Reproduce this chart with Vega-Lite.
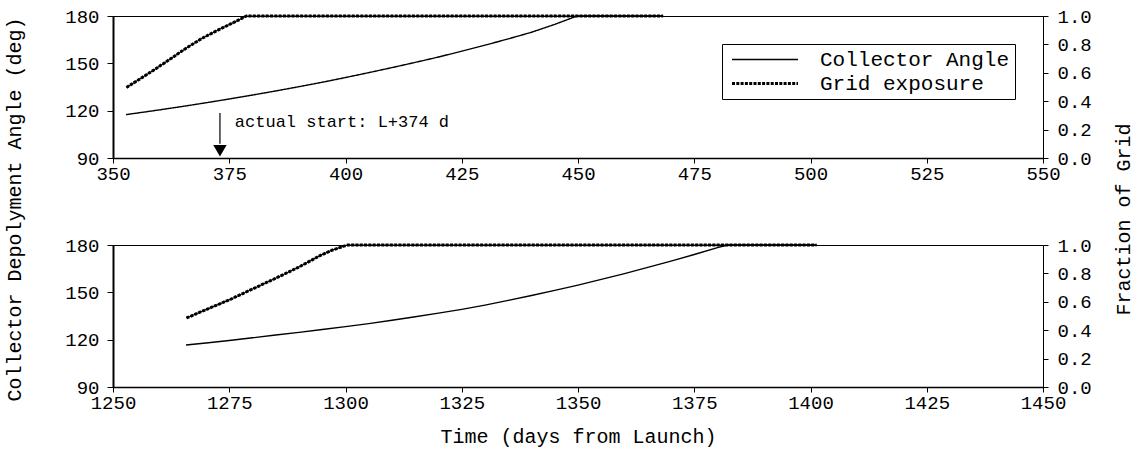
{
  "$schema": "https://vega.github.io/schema/vega-lite/v6.json",
  "padding": {"left": 4, "top": 6, "right": 2, "bottom": 4},
  "background": "white",
  "spacing": 87,
  "bounds": "flush",
  "config": {
    "font": "Liberation Mono",
    "view": {"stroke": "black", "strokeWidth": 1},
    "axis": {
      "labelFont": "Liberation Mono", "titleFont": "Liberation Mono",
      "labelFontSize": 19, "titleFontSize": 20, "titleFontWeight": "normal",
      "labelColor": "black", "titleColor": "black", "domainColor": "black", "tickColor": "black",
      "grid": false, "labelFlush": false, "labelOverlap": false, "labelSeparation": 0
    },
    "legend": {"labelFont": "Liberation Mono", "labelFontSize": 21, "labelColor": "black"}
  },
  "datasets": {
    "curves": [
      {"p": "top", "s": "Collector Angle", "d": 352.8, "v": 117.5},
      {"p": "top", "s": "Collector Angle", "d": 355, "v": 118.4},
      {"p": "top", "s": "Collector Angle", "d": 360, "v": 120.5},
      {"p": "top", "s": "Collector Angle", "d": 365, "v": 122.7},
      {"p": "top", "s": "Collector Angle", "d": 370, "v": 125.0},
      {"p": "top", "s": "Collector Angle", "d": 375, "v": 127.4},
      {"p": "top", "s": "Collector Angle", "d": 380, "v": 129.9},
      {"p": "top", "s": "Collector Angle", "d": 385, "v": 132.5},
      {"p": "top", "s": "Collector Angle", "d": 390, "v": 135.2},
      {"p": "top", "s": "Collector Angle", "d": 395, "v": 138.0},
      {"p": "top", "s": "Collector Angle", "d": 400, "v": 141.0},
      {"p": "top", "s": "Collector Angle", "d": 405, "v": 144.1},
      {"p": "top", "s": "Collector Angle", "d": 410, "v": 147.3},
      {"p": "top", "s": "Collector Angle", "d": 415, "v": 150.6},
      {"p": "top", "s": "Collector Angle", "d": 420, "v": 154.0},
      {"p": "top", "s": "Collector Angle", "d": 425, "v": 157.7},
      {"p": "top", "s": "Collector Angle", "d": 430, "v": 161.5},
      {"p": "top", "s": "Collector Angle", "d": 435, "v": 165.5},
      {"p": "top", "s": "Collector Angle", "d": 440, "v": 169.7},
      {"p": "top", "s": "Collector Angle", "d": 445, "v": 174.7},
      {"p": "top", "s": "Collector Angle", "d": 449.8, "v": 180},
      {"p": "top", "s": "Collector Angle", "d": 468.3, "v": 180},
      {"p": "top", "s": "Grid exposure", "d": 352.9, "v": 0.497},
      {"p": "top", "s": "Grid exposure", "d": 355, "v": 0.54},
      {"p": "top", "s": "Grid exposure", "d": 358.8, "v": 0.62},
      {"p": "top", "s": "Grid exposure", "d": 362, "v": 0.69},
      {"p": "top", "s": "Grid exposure", "d": 365.8, "v": 0.775},
      {"p": "top", "s": "Grid exposure", "d": 369, "v": 0.84},
      {"p": "top", "s": "Grid exposure", "d": 373, "v": 0.908},
      {"p": "top", "s": "Grid exposure", "d": 376, "v": 0.955},
      {"p": "top", "s": "Grid exposure", "d": 378.7, "v": 1.0},
      {"p": "top", "s": "Grid exposure", "d": 468.3, "v": 1.0},
      {"p": "bottom", "s": "Collector Angle", "d": 1265.7, "v": 116.6},
      {"p": "bottom", "s": "Collector Angle", "d": 1270, "v": 117.9},
      {"p": "bottom", "s": "Collector Angle", "d": 1275, "v": 119.5},
      {"p": "bottom", "s": "Collector Angle", "d": 1280, "v": 121.2},
      {"p": "bottom", "s": "Collector Angle", "d": 1285, "v": 123.0},
      {"p": "bottom", "s": "Collector Angle", "d": 1290, "v": 124.6},
      {"p": "bottom", "s": "Collector Angle", "d": 1295, "v": 126.4},
      {"p": "bottom", "s": "Collector Angle", "d": 1300, "v": 128.3},
      {"p": "bottom", "s": "Collector Angle", "d": 1305, "v": 130.2},
      {"p": "bottom", "s": "Collector Angle", "d": 1310, "v": 132.3},
      {"p": "bottom", "s": "Collector Angle", "d": 1315, "v": 134.5},
      {"p": "bottom", "s": "Collector Angle", "d": 1320, "v": 136.8},
      {"p": "bottom", "s": "Collector Angle", "d": 1325, "v": 139.2},
      {"p": "bottom", "s": "Collector Angle", "d": 1330, "v": 141.9},
      {"p": "bottom", "s": "Collector Angle", "d": 1335, "v": 144.9},
      {"p": "bottom", "s": "Collector Angle", "d": 1340, "v": 148.0},
      {"p": "bottom", "s": "Collector Angle", "d": 1345, "v": 151.2},
      {"p": "bottom", "s": "Collector Angle", "d": 1350, "v": 154.6},
      {"p": "bottom", "s": "Collector Angle", "d": 1355, "v": 158.2},
      {"p": "bottom", "s": "Collector Angle", "d": 1360, "v": 161.9},
      {"p": "bottom", "s": "Collector Angle", "d": 1365, "v": 165.8},
      {"p": "bottom", "s": "Collector Angle", "d": 1370, "v": 169.8},
      {"p": "bottom", "s": "Collector Angle", "d": 1375, "v": 174.0},
      {"p": "bottom", "s": "Collector Angle", "d": 1380, "v": 178.3},
      {"p": "bottom", "s": "Collector Angle", "d": 1382.2, "v": 180},
      {"p": "bottom", "s": "Collector Angle", "d": 1401.3, "v": 180},
      {"p": "bottom", "s": "Grid exposure", "d": 1265.8, "v": 0.486},
      {"p": "bottom", "s": "Grid exposure", "d": 1270, "v": 0.545},
      {"p": "bottom", "s": "Grid exposure", "d": 1275.1, "v": 0.615},
      {"p": "bottom", "s": "Grid exposure", "d": 1280, "v": 0.69},
      {"p": "bottom", "s": "Grid exposure", "d": 1285.9, "v": 0.78},
      {"p": "bottom", "s": "Grid exposure", "d": 1290, "v": 0.845},
      {"p": "bottom", "s": "Grid exposure", "d": 1294.5, "v": 0.925},
      {"p": "bottom", "s": "Grid exposure", "d": 1297, "v": 0.962},
      {"p": "bottom", "s": "Grid exposure", "d": 1299.5, "v": 0.99},
      {"p": "bottom", "s": "Grid exposure", "d": 1300.5, "v": 1.0},
      {"p": "bottom", "s": "Grid exposure", "d": 1401.3, "v": 1.0}
    ],
    "arrow": [{"d": 373, "y1": 118.5, "y2": 99}],
    "head": [{"d": 373, "y": 94.6}],
    "note": [{"d": 376.2, "y": 112.8, "label": "actual start: L+374 d"}]
  },
  "resolve": {
    "scale": {"strokeDash": "independent", "strokeWidth": "independent"},
    "legend": {"strokeDash": "independent", "strokeWidth": "independent"}
  },
  "vconcat": [
    {
      "width": 930,
      "height": 142,
      "layer": [
        {
          "layer": [
            {
              "data": {"name": "curves"},
              "transform": [{"filter": "datum.p == 'top' && datum.s == 'Collector Angle'"}],
              "mark": {"type": "line", "color": "black"},
              "encoding": {
                "x": {"field": "d", "type": "quantitative", "scale": {"domain": [350, 550], "nice": false},
                  "axis": {"values": [350, 375, 400, 425, 450, 475, 500, 525, 550], "format": "d", "title": null, "tickSize": 5, "labelPadding": 1, "domainWidth": 1.5, "labelOverlap": false}},
                "y": {"field": "v", "type": "quantitative", "scale": {"domain": [90, 180], "nice": false, "zero": false},
                  "axis": {"orient": "left", "values": [90, 120, 150, 180], "title": null, "tickSize": 6, "labelPadding": 8, "domainWidth": 2, "labelOverlap": false}},
                "strokeDash": {"field": "s", "type": "nominal",
                  "scale": {"domain": ["Collector Angle", "Grid exposure"], "range": [[1, 0], [3, 1.3]]},
                  "legend": {"title": null, "orient": "top-right", "offset": 28, "symbolType": "M-1,0L11,0", "symbolSize": 121,
                    "strokeColor": "black", "fillColor": "white", "padding": 5, "labelOffset": 72, "rowPadding": 2, "labelLimit": 400,
                    "symbolStrokeColor": "black", "symbolFillColor": "transparent"}},
                "strokeWidth": {"field": "s", "type": "nominal",
                  "scale": {"domain": ["Collector Angle", "Grid exposure"], "range": [1.4, 3]},
                  "legend": {"title": null, "orient": "top-right", "offset": 28, "symbolType": "M-1,0L11,0", "symbolSize": 121,
                    "strokeColor": "black", "fillColor": "white", "padding": 5, "labelOffset": 72, "rowPadding": 2, "labelLimit": 400,
                    "symbolStrokeColor": "black", "symbolFillColor": "transparent"}}
              }
            },
            {
              "data": {"name": "arrow"},
              "mark": {"type": "rule", "color": "black", "strokeWidth": 1.2},
              "encoding": {
                "x": {"field": "d", "type": "quantitative"},
                "y": {"field": "y1", "type": "quantitative"},
                "y2": {"field": "y2"}
              }
            },
            {
              "data": {"name": "head"},
              "mark": {"type": "point", "shape": "triangle-down", "filled": true, "color": "black", "size": 180, "opacity": 1},
              "encoding": {
                "x": {"field": "d", "type": "quantitative"},
                "y": {"field": "y", "type": "quantitative"}
              }
            },
            {
              "data": {"name": "note"},
              "mark": {"type": "text", "align": "left", "baseline": "middle", "font": "Liberation Mono", "fontSize": 17, "color": "black"},
              "encoding": {
                "x": {"field": "d", "type": "quantitative"},
                "y": {"field": "y", "type": "quantitative"},
                "text": {"field": "label"}
              }
            }
          ]
        },
        {
          "layer": [
            {
              "data": {"name": "curves"},
              "transform": [{"filter": "datum.p == 'top' && datum.s == 'Grid exposure'"}],
              "mark": {"type": "line", "color": "black", "strokeWidth": 1.2},
              "encoding": {
                "x": {"field": "d", "type": "quantitative"},
                "y": {"field": "v", "type": "quantitative", "scale": {"domain": [0, 1], "nice": false},
                  "axis": {"orient": "right", "values": [0, 0.2, 0.4, 0.6, 0.8, 1.0], "format": ".1f", "title": null, "tickSize": 5, "labelPadding": 9, "labelOverlap": false, "labelSeparation": 0}}
              }
            },
            {
              "data": {"name": "curves"},
              "transform": [{"filter": "datum.p == 'top' && datum.s == 'Grid exposure'"}],
              "mark": {"type": "line", "color": "black"},
              "encoding": {
                "x": {"field": "d", "type": "quantitative"},
                "y": {"field": "v", "type": "quantitative", "axis": {"orient": "right", "values": [0, 0.2, 0.4, 0.6, 0.8, 1.0], "format": ".1f", "title": null, "tickSize": 5, "labelPadding": 9, "labelOverlap": false, "labelSeparation": 0}},
                "strokeDash": {"field": "s", "type": "nominal"},
                "strokeWidth": {"field": "s", "type": "nominal"}
              }
            }
          ]
        }
      ],
      "resolve": {"scale": {"y": "independent"}}
    },
    {
      "width": 930,
      "height": 142,
      "layer": [
        {
          "data": {"name": "curves"},
          "transform": [{"filter": "datum.p == 'bottom' && datum.s == 'Collector Angle'"}],
          "mark": {"type": "line", "color": "black", "strokeWidth": 1.4},
          "encoding": {
            "x": {"field": "d", "type": "quantitative", "scale": {"domain": [1250, 1450], "nice": false},
              "axis": {"values": [1250, 1275, 1300, 1325, 1350, 1375, 1400, 1425, 1450], "format": "d", "title": "Time (days from Launch)", "tickSize": 5, "labelPadding": 1, "domainWidth": 1.5, "titlePadding": 14, "labelOverlap": false}},
            "y": {"field": "v", "type": "quantitative", "scale": {"domain": [90, 180], "nice": false, "zero": false},
              "axis": {"orient": "left", "values": [90, 120, 150, 180], "title": "Collector Depolyment Angle (deg)", "titleY": -36, "titlePadding": 40, "tickSize": 6, "labelPadding": 8, "domainWidth": 2, "labelOverlap": false}}
          }
        },
        {
          "layer": [
            {
              "data": {"name": "curves"},
              "transform": [{"filter": "datum.p == 'bottom' && datum.s == 'Grid exposure'"}],
              "mark": {"type": "line", "color": "black", "strokeWidth": 1.2},
              "encoding": {
                "x": {"field": "d", "type": "quantitative"},
                "y": {"field": "v", "type": "quantitative", "scale": {"domain": [0, 1], "nice": false},
                  "axis": {"orient": "right", "values": [0, 0.2, 0.4, 0.6, 0.8, 1.0], "format": ".1f", "title": "Fraction of Grid", "titleAngle": 270, "titleBaseline": "bottom", "titleY": -26, "titlePadding": 42, "tickSize": 5, "labelPadding": 9, "labelOverlap": false, "labelSeparation": 0}}
              }
            },
            {
              "data": {"name": "curves"},
              "transform": [{"filter": "datum.p == 'bottom' && datum.s == 'Grid exposure'"}],
              "mark": {"type": "line", "color": "black", "strokeWidth": 3, "strokeDash": [3, 1.3]},
              "encoding": {
                "x": {"field": "d", "type": "quantitative"},
                "y": {"field": "v", "type": "quantitative", "axis": {"orient": "right", "values": [0, 0.2, 0.4, 0.6, 0.8, 1.0], "format": ".1f", "title": "Fraction of Grid", "titleAngle": 270, "titleBaseline": "bottom", "titleY": -26, "titlePadding": 42, "tickSize": 5, "labelPadding": 9, "labelOverlap": false, "labelSeparation": 0}}
              }
            }
          ]
        }
      ],
      "resolve": {"scale": {"y": "independent"}}
    }
  ]
}
